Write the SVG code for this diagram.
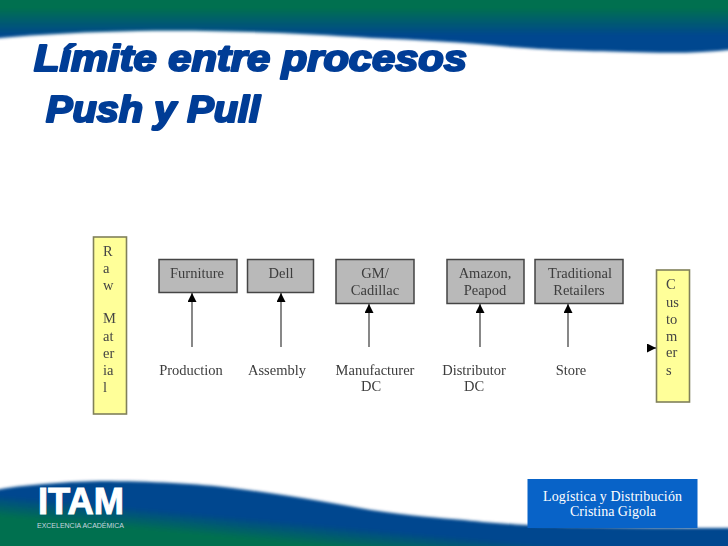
<svg xmlns="http://www.w3.org/2000/svg" width="728" height="546" viewBox="0 0 728 546">
<style>
.t{font-family:"Liberation Serif","Times New Roman",serif;font-size:14.500px;fill:#3c3c3c;text-anchor:middle}
.y{font-family:"Liberation Serif","Times New Roman",serif;font-size:14.500px;fill:#444}
.gb{fill:#b9b9b9;stroke:#444;stroke-width:1.500}
.yb{fill:#ffff99;stroke:#80805a;stroke-width:1.600}
.title{font-family:"Liberation Sans",Arial,sans-serif;font-weight:700;font-style:italic;font-size:36px;fill:#023c96;stroke:#023c96;stroke-width:2.200;stroke-linejoin:round}
.c line{stroke:#555;stroke-width:1.400}
.cr{font-family:"Liberation Serif","Times New Roman",serif;font-size:14px;fill:#fff;text-anchor:middle}
</style>
<defs>
<linearGradient id="top" gradientUnits="userSpaceOnUse" x1="0" y1="8" x2="0" y2="36"><stop offset="0" stop-color="#04704f"/><stop offset="1" stop-color="#03468f"/></linearGradient>
<linearGradient id="bot" gradientUnits="userSpaceOnUse" x1="300" y1="522" x2="298" y2="544"><stop offset="0" stop-color="#03468f"/><stop offset="1" stop-color="#06704f"/></linearGradient>
<filter id="soft" x="-5%" y="-30%" width="110%" height="160%"><feGaussianBlur stdDeviation="1.800"/></filter>
<filter id="tb" x="-5%" y="-5%" width="110%" height="110%"><feGaussianBlur stdDeviation="0.350"/></filter>
<marker id="a" markerWidth="10" markerHeight="9" refX="9" refY="4.500" orient="auto" markerUnits="userSpaceOnUse"><path d="M0 0L9 4.500L0 9Z" fill="#000"/></marker>
</defs>
<rect width="728" height="546" fill="#fff"/>
<path id="top-band" filter="url(#soft)" fill="url(#top)" d="M-10-10H738V49C700 54 660 53 627 52C580 51 550 50 511 47C460 42 420 40 371 38C300 33 220 30 139 31C90 32 40 34-10 39Z"/>
<path id="bottom-band" filter="url(#soft)" fill="url(#bot)" d="M-10 491C20 485 60 482 100 481C150 481 200 484 232 488C290 495 330 503 371 510C410 516 440 518 464 520C500 524 530 526 600 527C650 528 700 528 738 528V556H-10Z"/>
<g id="title"><text class="title" x="34" y="71" textLength="433" lengthAdjust="spacingAndGlyphs" filter="url(#tb)">Límite entre procesos</text>
<text class="title" x="46" y="122" textLength="214" lengthAdjust="spacingAndGlyphs" filter="url(#tb)">Push y Pull</text></g>
<g filter="url(#tb)">
<g id="raw-material"><rect class="yb" x="93.500" y="237" width="33" height="177"/>
<text class="y" x="103" y="256">R</text><text class="y" x="103" y="273">a</text><text class="y" x="103" y="290">w</text><text class="y" x="103" y="323">M</text><text class="y" x="103" y="341">at</text><text class="y" x="103" y="358">er</text><text class="y" x="103" y="375">ia</text><text class="y" x="103" y="392">l</text></g>
<g id="furniture"><rect class="gb" x="159" y="259.500" width="78" height="33"/><text class="t" x="197" y="278">Furniture</text></g>
<g id="dell"><rect class="gb" x="247.500" y="259.500" width="66" height="33"/><text class="t" x="281" y="278">Dell</text></g>
<g id="gm"><rect class="gb" x="336" y="259.500" width="78" height="44"/><text class="t" x="375" y="278">GM/</text><text class="t" x="375" y="295">Cadillac</text></g>
<g id="amazon"><rect class="gb" x="447" y="259.500" width="77" height="44"/><text class="t" x="485" y="278">Amazon,</text><text class="t" x="485" y="295">Peapod</text></g>
<g id="retailers"><rect class="gb" x="535" y="259.500" width="88" height="44"/><text class="t" x="580" y="278">Traditional</text><text class="t" x="579" y="295">Retailers</text></g>
<g id="customers"><rect class="yb" x="656.500" y="270" width="33" height="132"/>
<text class="y" x="666" y="289">C</text><text class="y" x="666" y="307">us</text><text class="y" x="666" y="324">to</text><text class="y" x="666" y="341">m</text><text class="y" x="666" y="357">er</text><text class="y" x="666" y="375">s</text></g>
<g class="c" id="connectors">
<line x1="192" y1="347" x2="192" y2="293" marker-end="url(#a)"/>
<line x1="281" y1="347" x2="281" y2="293" marker-end="url(#a)"/>
<line x1="369" y1="347" x2="369" y2="304" marker-end="url(#a)"/>
<line x1="480" y1="347" x2="480" y2="304" marker-end="url(#a)"/>
<line x1="568" y1="347" x2="568" y2="304" marker-end="url(#a)"/>
<line x1="647" y1="348" x2="656" y2="348" marker-end="url(#a)"/>
</g>
<g id="labels">
<text class="t" x="191" y="375">Production</text><text class="t" x="277" y="375">Assembly</text>
<text class="t" x="375" y="375">Manufacturer</text><text class="t" x="371" y="391">DC</text>
<text class="t" x="474" y="375">Distributor</text><text class="t" x="474" y="391">DC</text>
<text class="t" x="571" y="375">Store</text></g>
</g>
<g id="logo"><text x="38" y="514" font-family="'Liberation Sans',Arial,sans-serif" font-weight="700" font-size="37" fill="#fff" stroke="#fff" stroke-width="1" textLength="86" lengthAdjust="spacingAndGlyphs">ITAM</text>
<text x="37" y="528" font-family="'Liberation Sans',Arial,sans-serif" font-size="7" fill="#c8d4e0" textLength="87">EXCELENCIA ACADÉMICA</text></g>
<g id="credit"><rect x="527.500" y="479" width="170" height="49" fill="#0863c8"/>
<text class="cr" x="612.500" y="501" textLength="139">Logística y Distribución</text>
<text class="cr" x="613" y="516" textLength="86">Cristina Gigola</text></g>
</svg>
